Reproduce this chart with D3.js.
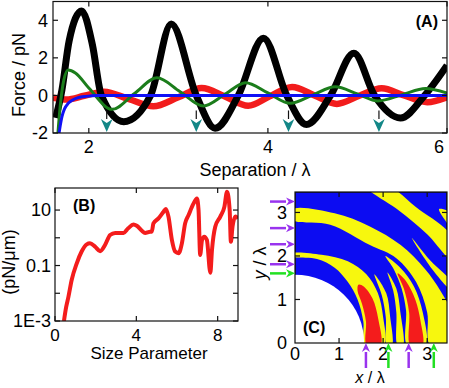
<!DOCTYPE html>
<html lang="en">
<head>
    <meta charset="UTF-8">
    <title>Optical binding</title>
    <script src="https://d3js.org/d3.v7.min.js"></script>
    <style>
        body { margin: 0; background: #fff; }
        svg { display: block; font-family: "Liberation Sans", Arial, sans-serif; }
    </style>
</head>
<body>
    <div id="chart"></div>
    <script>
        // ---------- panel A : force vs separation ----------
        const blackX = [1.63, 1.70, 1.78, 1.92, 2.04, 2.14, 2.39, 2.69, 2.92, 3.20, 3.41, 3.67, 3.95, 4.21, 4.43, 4.70, 4.96, 5.19, 5.48, 5.75, 6.0];
        const blackY = [-1.2, 0.3, 2.9, 4.5, 2.7, 0.0, -1.4, 0.0, 3.8, 0.0, -1.75, 0.0, 3.05, 0.0, -1.55, 0.0, 2.25, 0.0, -1.2, 0.0, 1.6];
        const greenX = [1.655, 1.68, 1.72, 1.77, 1.85, 2.0, 2.26, 2.51, 2.76, 3.02, 3.28, 3.52, 3.75, 4.0, 4.25, 4.5, 4.75, 5.0, 5.23, 5.5, 5.76, 6.0];
        const greenY = [-2.0, -0.6, 0.8, 1.35, 1.2, 0.4, -0.74, 0.1, 0.94, 0.2, -0.56, 0.06, 0.68, 0.13, -0.42, 0.02, 0.46, 0.08, -0.29, 0.04, 0.37, 0.12];
        const redX = [1.6, 1.75, 1.95, 2.17, 2.45, 2.72, 3.0, 3.26, 3.52, 3.78, 4.02, 4.27, 4.52, 4.77, 5.02, 5.27, 5.52, 5.78, 6.0];
        const redY = [-0.12, -0.22, -0.02, 0.2, -0.2, -0.58, -0.1, 0.4, -0.05, -0.55, -0.05, 0.45, 0.0, -0.45, -0.02, 0.38, 0.0, -0.36, -0.1];
        const blueX = [1.668, 1.685, 1.70, 1.73, 1.77, 1.82, 1.88, 1.97, 2.1, 3.0, 6.0];
        const blueY = [-2.0, -1.5, -1.13, -0.7, -0.42, -0.24, -0.12, -0.05, -0.01, 0, 0];
        const tealArrowsX = [2.2, 3.2, 4.23, 5.24];
        const ticksAX = [2, 4, 6];
        const ticksAY = [-2, 0, 2, 4];

        // ---------- panel B : stiffness vs size parameter ----------
        const sizeParam = [0.44, 0.55, 0.66, 0.82, 1.07, 1.31, 1.56, 1.72, 1.97, 2.22, 2.46, 2.71, 2.96, 3.37, 3.6, 3.86, 4.02, 4.27, 4.43, 4.68,
            4.76, 4.84, 5.09, 5.34, 5.45, 5.58, 5.75, 5.91, 6.08, 6.24, 6.4, 6.57, 6.81, 6.98, 7.06, 7.14, 7.23, 7.34, 7.47, 7.64,
            7.72, 7.88, 8.13, 8.33, 8.46, 8.59, 8.65, 8.73, 8.87, 9.0];
        const stiffness = [0.001, 0.0032, 0.0074, 0.03, 0.12, 0.32, 0.58, 0.63, 0.48, 0.33, 0.55, 1.26, 1.5, 1.5, 2.2, 3.0, 2.7, 1.8, 1.5, 1.66,
            1.66, 3.3, 5.0, 8.7, 11, 5.8, 0.83, 0.32, 0.28, 0.63, 3.3, 6.6, 17, 26, 10, 0.24, 0.83, 1.1, 0.83, 0.055,
            0.36, 2.5, 5.8, 13, 46, 10, 0.72, 2.5, 5.8, 5.0];
        const ticksBX = [0, 4, 8];
        const ticksBY = [0.001, 0.01, 0.1, 1, 10];
        const labelsBY = {0.001: "1E-3", 0.1: "0.1", 10: "10"};

        // ---------- panel C : stability map (outlines in units of lambda) ----------
        const whiteRadius = 1.57;
        const yellowRegions = [
            // band with the inner red region, ends on the y axis
            [[2.02, -0.05], [2.0, 0.6], [1.88, 1.15], [1.62, 1.58], [1.2, 1.88], [0.6, 2.03], [-0.05, 2.06],
             [-0.05, 1.99], [0.5, 1.93], [0.9, 1.73], [1.2, 1.4], [1.42, 1.0], [1.55, 0.5], [1.59, -0.05]],
            // thin tapering bands
            [[2.09, -0.05], [2.06, 0.6], [1.97, 1.1], [1.8, 1.58], [2.07, 1.15], [2.16, 0.6], [2.2, -0.05]],
            [[2.33, -0.05], [2.3, 0.7], [2.23, 1.2], [2.1, 1.62], [2.3, 1.25], [2.39, 0.72], [2.45, -0.05]],
            // band around second red region
            [[2.96, -0.05], [2.9, 0.7], [2.7, 1.3], [2.4, 1.72], [2.05, 2.0], [2.25, 1.68], [2.42, 1.25], [2.52, 0.75], [2.55, -0.05]],
            // wide outer band
            [[3.65, -0.05], [3.6, 0.6], [3.3, 1.2], [2.95, 1.7], [2.4, 2.25], [1.7, 2.68], [0.9, 2.98], [-0.05, 3.07],
             [-0.05, 2.83], [0.8, 2.72], [1.7, 2.25], [2.3, 1.95], [2.75, 1.4], [3.0, 0.7], [3.07, -0.05]],
            [[2.65, 2.42], [3.05, 1.92], [3.55, 1.4], [3.55, 1.22], [3.15, 1.65]],
            [[1.6, 3.6], [2.12, 3.6], [2.75, 3.12], [3.55, 2.45], [3.55, 1.92], [3.0, 2.5], [2.35, 3.05]],
            [[3.27, 3.08], [3.55, 2.98], [3.55, 2.66], [3.38, 2.86]]
        ];
        const redRegions = [
            [[1.63, -0.05], [1.61, 0.5], [1.52, 0.9], [1.42, 1.2], [1.44, 1.34], [1.56, 1.3], [1.76, 1.02], [1.89, 0.55], [1.94, -0.05]],
            [[2.62, -0.05], [2.59, 0.7], [2.47, 1.25], [2.33, 1.6], [2.52, 1.42], [2.73, 1.0], [2.85, 0.5], [2.89, -0.05]]
        ];
        const arrowsLeftY = [3.25, 2.64, 2.27, 1.81, 1.6];
        const arrowsLeftColor = ["#9933ee", "#9933ee", "#9933ee", "#9933ee", "#22e022"];
        const arrowsBottomX = [1.61, 2.12, 2.58, 3.15];
        const arrowsBottomColor = ["#9933ee", "#22e022", "#9933ee", "#22e022"];
        const ticksC = [0, 1, 2, 3];

        const svg = d3.select("#chart").append("svg")
            .attr("width", 449)
            .attr("height", 388);

        const defs = svg.append("defs");
        function clip(id, x0, y0, x1, y1) {
            defs.append("clipPath").attr("id", id).append("rect")
                .attr("x", x0).attr("y", y0).attr("width", x1 - x0).attr("height", y1 - y0);
            return "url(#" + id + ")";
        }

        // inward ticks on all four sides + frame
        function frame(g, x, y, xt, yt) {
            const [x0, x1] = x.range();
            const [y0, y1] = y.range();
            const t = 5;
            xt.forEach(v => {
                g.append("line").attr("x1", x(v)).attr("x2", x(v)).attr("y1", y0).attr("y2", y0 - t);
                g.append("line").attr("x1", x(v)).attr("x2", x(v)).attr("y1", y1).attr("y2", y1 + t);
            });
            yt.forEach(v => {
                g.append("line").attr("x1", x0).attr("x2", x0 + t).attr("y1", y(v)).attr("y2", y(v));
                g.append("line").attr("x1", x1).attr("x2", x1 - t).attr("y1", y(v)).attr("y2", y(v));
            });
            g.append("rect").attr("x", x0).attr("y", y1).attr("width", x1 - x0).attr("height", y0 - y1)
                .attr("fill", "none");
            g.selectAll("line, rect").attr("stroke", "#111").attr("stroke-width", 1.2);
        }

        function arrow(g, xA, yA, xB, yB, color, w, head) {
            const ang = Math.atan2(yB - yA, xB - xA);
            const bx = xB - head * Math.cos(ang), by = yB - head * Math.sin(ang);
            g.append("line").attr("x1", xA).attr("y1", yA).attr("x2", bx).attr("y2", by)
                .attr("stroke", color).attr("stroke-width", w);
            const px = Math.sin(ang) * head * 0.45, py = -Math.cos(ang) * head * 0.45;
            g.append("path")
                .attr("d", `M${xB},${yB}L${bx + px},${by + py}L${bx + head * 0.3 * Math.cos(ang)},${by + head * 0.3 * Math.sin(ang)}L${bx - px},${by - py}Z`)
                .attr("fill", color);
        }

        // ================= panel A =================
        const xA = d3.scaleLinear().domain([1.6, 6]).range([53, 447]);
        const yA = d3.scaleLinear().domain([-2, 5]).range([133, 1.5]);
        const gA = svg.append("g");
        const plotA = gA.append("g").attr("clip-path", clip("clipA", 53, 1.5, 447, 133));
        const lineA = d3.line().x(d => xA(d[0])).y(d => yA(d[1])).curve(d3.curveMonotoneX);
        const seriesA = [
            [redX, redY, "#f21c1c", 6.5],
            [blackX, blackY, "#000", 7],
            [greenX, greenY, "#1b7d1b", 3],
            [blueX, blueY, "#1010f5", 3]
        ];
        seriesA.forEach(([xs, ys, c, w]) => {
            plotA.append("path")
                .datum(xs.map((v, i) => [v, ys[i]]))
                .attr("d", lineA)
                .attr("fill", "none")
                .attr("stroke", c)
                .attr("stroke-width", w)
                .attr("stroke-linejoin", "round");
        });
        tealArrowsX.forEach(v => arrow(gA, xA(v), yA(-0.8), xA(v), yA(-2) - 1, "#138787", 3, 13));
        frame(gA, xA, yA, ticksAX, ticksAY);
        ticksAX.forEach(v => gA.append("text").attr("x", Math.min(xA(v), 439)).attr("y", 153)
            .attr("text-anchor", "middle").attr("font-size", 18).text(v));
        ticksAY.forEach(v => gA.append("text").attr("x", 48).attr("y", yA(v)).attr("dy", "0.35em")
            .attr("text-anchor", "end").attr("font-size", 18).text(v));
        gA.append("text").attr("x", 255).attr("y", 176).attr("text-anchor", "middle")
            .attr("font-size", 18).text("Separation / λ");
        gA.append("text").attr("transform", "translate(25,75) rotate(-90)").attr("text-anchor", "middle")
            .attr("font-size", 18).text("Force / pN");
        gA.append("text").attr("x", 438).attr("y", 27).attr("text-anchor", "end")
            .attr("font-size", 16).attr("font-weight", "bold").text("(A)");

        // ================= panel B =================
        const xB = d3.scaleLinear().domain([0, 9]).range([55, 238]);
        const yB = d3.scaleLog().domain([0.001, 62.4]).range([321, 188]);
        const gB = svg.append("g");
        const plotB = gB.append("g").attr("clip-path", clip("clipB", 55, 186, 238, 321));
        plotB.append("path")
            .datum(sizeParam.map((v, i) => [v, stiffness[i]]))
            .attr("d", d3.line().x(d => xB(d[0])).y(d => yB(d[1])).curve(d3.curveMonotoneX))
            .attr("fill", "none")
            .attr("stroke", "#f41c1c")
            .attr("stroke-width", 4)
            .attr("stroke-linejoin", "round");
        frame(gB, xB, yB, ticksBX, ticksBY);
        ticksBX.forEach(v => gB.append("text").attr("x", xB(v)).attr("y", 341)
            .attr("text-anchor", "middle").attr("font-size", 17).text(v));
        ticksBY.filter(v => labelsBY[v]).forEach(v => gB.append("text").attr("x", 51).attr("y", yB(v))
            .attr("dy", "0.35em").attr("text-anchor", "end").attr("font-size", 18).text(labelsBY[v]));
        gB.append("text").attr("x", 149).attr("y", 359).attr("text-anchor", "middle")
            .attr("font-size", 17).text("Size Parameter");
        gB.append("text").attr("transform", "translate(15,262) rotate(-90)").attr("text-anchor", "middle")
            .attr("font-size", 18).text("(pN/μm)");
        gB.append("text").attr("x", 73).attr("y", 211)
            .attr("font-size", 16).attr("font-weight", "bold").text("(B)");

        // ================= panel C =================
        const xC = d3.scaleLinear().domain([0, 3.45]).range([295, 447]);
        const yC = d3.scaleLinear().domain([0, 3.47]).range([343, 192]);
        const gC = svg.append("g");
        const plotC = gC.append("g").attr("clip-path", clip("clipC", 295, 192, 447, 343));
        plotC.append("rect").attr("x", 295).attr("y", 192).attr("width", 152).attr("height", 151)
            .attr("fill", "#0c0cf2");
        const outline = d3.line().x(d => xC(d[0])).y(d => yC(d[1])).curve(d3.curveCatmullRomClosed.alpha(0.5));
        plotC.selectAll("path.yel").data(yellowRegions).join("path").attr("class", "yel")
            .attr("d", outline).attr("fill", "#f7f70e");
        plotC.selectAll("path.red").data(redRegions).join("path").attr("class", "red")
            .attr("d", outline).attr("fill", "#f41c1c");
        plotC.append("ellipse")
            .attr("cx", xC(0)).attr("cy", yC(0))
            .attr("rx", xC(whiteRadius) - xC(0)).attr("ry", yC(0) - yC(whiteRadius))
            .attr("fill", "#fff");
        frame(gC, xC, yC, ticksC.slice(1), ticksC.slice(1));
        ticksC.forEach(v => gC.append("text").attr("x", xC(v)).attr("y", 360)
            .attr("text-anchor", "middle").attr("font-size", 18).text(v));
        ticksC.forEach(v => gC.append("text").attr("x", 287).attr("y", yC(v)).attr("dy", "0.35em")
            .attr("text-anchor", "end").attr("font-size", 18).text(v));
        arrowsLeftY.forEach((v, i) => arrow(gC, 270, yC(v), xC(0), yC(v), arrowsLeftColor[i], 2.5, 9));
        arrowsBottomX.forEach((v, i) => arrow(gC, xC(v), 368, xC(v), yC(0), arrowsBottomColor[i], 2.5, 9));
        const xl = gC.append("text").attr("x", 370).attr("y", 383).attr("text-anchor", "middle").attr("font-size", 16);
        xl.append("tspan").attr("font-style", "italic").text("x");
        xl.append("tspan").text(" / λ");
        const yl = gC.append("text").attr("transform", "translate(266,263) rotate(-90)")
            .attr("text-anchor", "middle").attr("font-size", 18);
        yl.append("tspan").attr("font-style", "italic").text("y");
        yl.append("tspan").text(" / λ");
        gC.append("text").attr("x", 303).attr("y", 333)
            .attr("font-size", 16).attr("font-weight", "bold").text("(C)");
    </script>
</body>
</html>
